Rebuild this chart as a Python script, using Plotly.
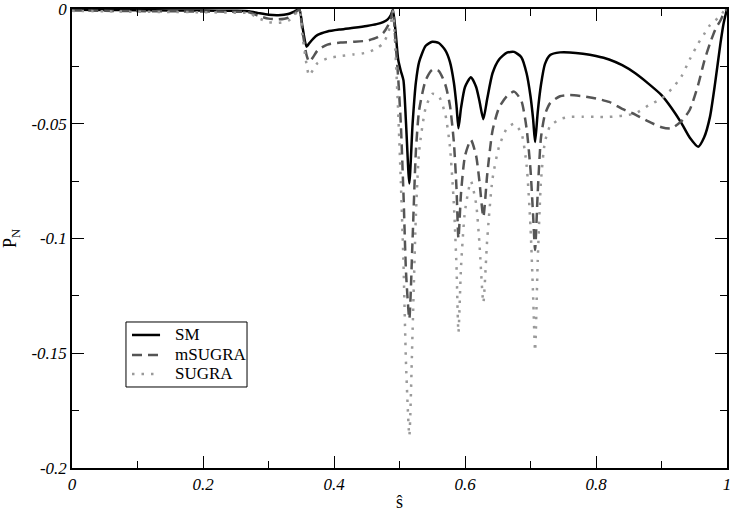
import plotly.graph_objects as go

s_hat = [0, 0.05, 0.1, 0.15, 0.2, 0.25, 0.27, 0.285, 0.3, 0.315,
         0.33, 0.34, 0.347, 0.352, 0.358, 0.362, 0.368, 0.375, 0.39, 0.41,
         0.43, 0.45, 0.465, 0.475, 0.482, 0.487, 0.49, 0.494, 0.498, 0.502,
         0.506, 0.51, 0.515, 0.52, 0.525, 0.53, 0.54, 0.55, 0.56, 0.57,
         0.577, 0.583, 0.587, 0.59, 0.594, 0.6, 0.609, 0.617, 0.622, 0.628,
         0.634, 0.642, 0.652, 0.664, 0.675, 0.686, 0.694, 0.7, 0.704, 0.707,
         0.711, 0.716, 0.722, 0.73, 0.745, 0.76, 0.78, 0.8, 0.82, 0.84,
         0.86, 0.88, 0.9, 0.915, 0.93, 0.943, 0.956, 0.965, 0.974, 0.982,
         0.99, 0.995, 1.0]

pn_sm = [-0.0003, -0.0004, -0.0005, -0.0006, -0.0007, -0.0008, -0.001, -0.0018, -0.0025, -0.0027,
         -0.0022, -0.001, -0.0002, -0.008, -0.0164, -0.015, -0.013, -0.0113, -0.0098, -0.0089,
         -0.0082, -0.0074, -0.0066, -0.0057, -0.0045, -0.0025, -0.0003, -0.01, -0.022, -0.027,
         -0.031, -0.05, -0.076, -0.05, -0.032, -0.023, -0.016, -0.0143, -0.0148, -0.018,
         -0.023, -0.032, -0.042, -0.052, -0.043, -0.034, -0.0297, -0.034, -0.04, -0.048,
         -0.039, -0.028, -0.022, -0.019, -0.0187, -0.021, -0.028, -0.038, -0.048, -0.058,
         -0.045, -0.033, -0.024, -0.02, -0.0189, -0.0189, -0.0195, -0.0205, -0.022, -0.0245,
         -0.028, -0.0325, -0.0375, -0.043, -0.0495, -0.056, -0.060, -0.056, -0.047, -0.032,
         -0.015, -0.006, 0.0]

pn_msugra = [-0.0006, -0.0008, -0.0009, -0.001, -0.0011, -0.0012, -0.0014, -0.003, -0.0042, -0.0045,
             -0.0038, -0.0018, -0.0003, -0.01, -0.02, -0.023, -0.021, -0.018, -0.0155, -0.0146,
             -0.0143, -0.0138, -0.0125, -0.0105, -0.0075, -0.004, -0.0005, -0.015, -0.03, -0.05,
             -0.08, -0.115, -0.135, -0.1, -0.062, -0.044, -0.031, -0.0265, -0.027, -0.033,
             -0.042, -0.058, -0.078, -0.1, -0.08, -0.064, -0.057, -0.064, -0.075, -0.0906,
             -0.072, -0.053, -0.043, -0.038, -0.036, -0.04, -0.052, -0.07, -0.09, -0.105,
             -0.08, -0.056, -0.046, -0.041, -0.038, -0.0375, -0.038, -0.039, -0.0405, -0.0435,
             -0.046, -0.049, -0.0515, -0.052, -0.049, -0.044, -0.033, -0.023, -0.015, -0.009,
             -0.005, -0.002, 0.0]

pn_sugra = [-0.0008, -0.001, -0.0012, -0.0013, -0.0014, -0.0016, -0.0018, -0.004, -0.0057, -0.006,
            -0.0052, -0.0025, -0.0005, -0.012, -0.024, -0.029, -0.0265, -0.0235, -0.0215, -0.0205,
            -0.0198, -0.019, -0.0172, -0.015, -0.011, -0.006, -0.001, -0.02, -0.045, -0.075,
            -0.11, -0.155, -0.186, -0.14, -0.09, -0.062, -0.043, -0.037, -0.038, -0.046,
            -0.06, -0.085, -0.112, -0.141, -0.112, -0.088, -0.075, -0.085, -0.102, -0.128,
            -0.1, -0.074, -0.06, -0.052, -0.05, -0.054, -0.068, -0.095, -0.125, -0.149,
            -0.11, -0.075, -0.058, -0.051, -0.048, -0.047, -0.047, -0.047, -0.047, -0.0465,
            -0.0455, -0.042, -0.039, -0.035, -0.0296, -0.022, -0.015, -0.011, -0.007, -0.005,
            -0.003, -0.001, 0.0]

series_names = ["SM", "mSUGRA", "SUGRA"]
series_values = [pn_sm, pn_msugra, pn_sugra]
series_colors = ["black", "#555555", "#9a9a9a"]
series_dashes = ["solid", "10px,6px", "2.5px,7px"]

x_ticks = [0, 0.2, 0.4, 0.6, 0.8, 1.0]
x_tick_labels = ["0", "0.2", "0.4", "0.6", "0.8", "1"]
x_minor = [0.1, 0.3, 0.5, 0.7, 0.9]
y_ticks = [0, -0.05, -0.1, -0.15, -0.2]
y_tick_labels = ["0", "-0.05", "-0.1", "-0.15", "-0.2"]
y_minor = [-0.025, -0.075, -0.125, -0.175]

serif = "Liberation Serif, Times New Roman, serif"

fig = go.Figure()
for name, vals, col, dash in zip(series_names, series_values, series_colors, series_dashes):
    fig.add_trace(go.Scatter(x=s_hat, y=vals, mode="lines", name=name, showlegend=False,
                             line=dict(color=col, width=2.5, dash=dash,
                                       shape="spline", smoothing=0.6)))

# legend drawn as a boxed key in paper coordinates
leg_x0, leg_x1, leg_y0, leg_y1 = 0.0824, 0.2672, 0.1765, 0.3181
row_y = [0.2898, 0.2462, 0.2048]
shapes = [dict(type="rect", xref="paper", yref="paper", x0=leg_x0, x1=leg_x1, y0=leg_y0, y1=leg_y1,
               line=dict(color="black", width=1), fillcolor="white", layer="above")]
annotations = []
for name, col, dash, ry in zip(series_names, series_colors, series_dashes, row_y):
    shapes.append(dict(type="line", xref="paper", yref="paper", x0=0.0916, x1=0.1344, y0=ry, y1=ry,
                       line=dict(color=col, width=2.5, dash=dash), layer="above"))
    annotations.append(dict(xref="paper", yref="paper", x=0.1542, y=ry, text=name, showarrow=False,
                            xanchor="left", yanchor="middle",
                            font=dict(family=serif, size=17, color="black")))

axis_common = dict(showline=True, linecolor="black", linewidth=1.5, mirror="allticks",
                   ticks="inside", ticklen=12, tickwidth=1.2, tickcolor="black",
                   showgrid=False, zeroline=False, ticklabeloverflow="allow",
                   tickfont=dict(family=serif, size=17, style="italic", color="black"))

fig.update_xaxes(range=[0, 1], tickmode="array", tickvals=x_ticks, ticktext=x_tick_labels,
                 minor=dict(tickmode="array", tickvals=x_minor, ticks="inside", ticklen=7,
                            tickwidth=1.2, tickcolor="black", showgrid=False),
                 title=dict(text="ŝ", font=dict(family=serif, size=18, color="black"), standoff=13),
                 **axis_common)
fig.update_yaxes(range=[-0.2, 0], tickmode="array", tickvals=y_ticks, ticktext=y_tick_labels,
                 minor=dict(tickmode="array", tickvals=y_minor, ticks="inside", ticklen=7,
                            tickwidth=1.2, tickcolor="black", showgrid=False),
                 title=dict(text="P<sub>N</sub>", font=dict(family=serif, size=18, color="black"),
                            standoff=18),
                 **axis_common)

fig.update_layout(
    width=734, height=512,
    margin=dict(l=72, r=7, t=9, b=44, autoexpand=False),
    paper_bgcolor="white", plot_bgcolor="white",
    shapes=shapes, annotations=annotations,
    showlegend=False,
)

fig.write_html("out.html", config={"displayModeBar": False},
               post_script="document.body.style.margin='0';")
